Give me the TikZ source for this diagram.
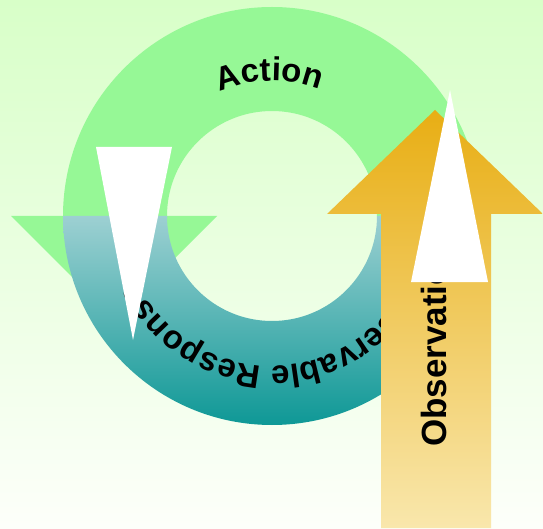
\documentclass[tikz,border=0pt]{standalone}
\usepackage{fontspec}
\setmainfont{Liberation Sans}
\usepackage{xcolor}
\usepackage{tikz}
\usetikzlibrary{shapes,arrows,positioning,calc,decorations.text}

\definecolor{bgtop}{RGB}{216,255,200}
\definecolor{bgmid}{RGB}{245,255,238}
\definecolor{bgbot}{RGB}{253,255,250}
\definecolor{ringgreen}{RGB}{150,248,150}
\definecolor{tealtop}{RGB}{157,208,210}
\definecolor{tealbot}{RGB}{14,152,150}
\definecolor{obstop}{RGB}{232,174,20}
\definecolor{obsbot}{RGB}{249,231,172}

\begin{document}
\begin{tikzpicture}[x=1pt, y=1pt,
    greenpart/.style={fill=ringgreen, draw=none},
    tealpart/.style={top color=tealtop, bottom color=tealbot, draw=none},
    obsarrow/.style={top color=obstop, bottom color=obsbot, draw=none},
    spike/.style={fill=white, draw=none}]

    \useasboundingbox (0,0) rectangle (543,528);
    \shade[top color=bgtop, middle color=bgmid, bottom color=bgbot] (0,0) rectangle (543,528);
    \coordinate (c) at (272,312);

    % upper half of the cycle and its head
    \fill[greenpart] ($(c)+(180:209)$) arc (180:0:209) -- ($(c)+(0:105)$) arc (0:180:105) -- cycle;
    \fill[greenpart] (11,312) -- (217,312) -- (114,209) -- cycle;
    % lower half
    \shade[tealpart] ($(c)+(180:209)$) arc (180:360:209) -- ($(c)+(0:105)$) arc (360:180:105) -- cycle;

    \path[decorate, decoration={text along path, text align=center,
        text={|\bfseries\fontsize{33}{33}\selectfont|Action}}] ($(c)+(131:135)$) arc (131:51:135);
    \path[decorate, decoration={text along path, text align=center,
        text={|\bfseries\fontsize{33}{33}\selectfont|Observable Response}}] ($(c)+(352:150)$) arc (352:192:150);

    \fill[spike] (96,381) -- (172,381) -- (133,188) -- cycle;

    % observation arrow
    \shade[obsarrow] (381,0) -- (381,314) -- (327,314) -- (435,418) -- (543,314) -- (491,314) -- (491,0) -- cycle;
    \node[rotate=90, anchor=base west, inner sep=0pt, font=\bfseries\fontsize{35}{35}\selectfont] (obs) at (446,81) {Observation};
    \fill[spike] (411,246) -- (488,246) -- (450,438) -- cycle;

\end{tikzpicture}
\end{document}
